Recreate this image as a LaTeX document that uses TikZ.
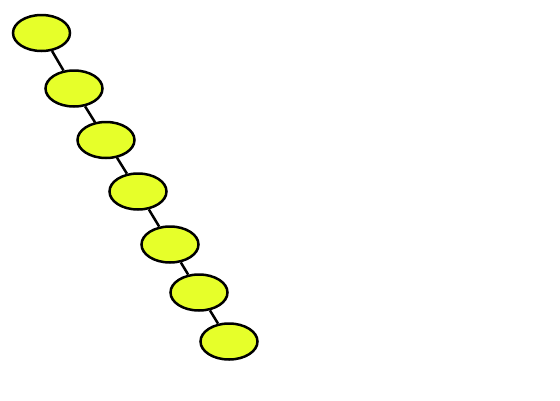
\documentclass[tikz,border=0pt]{standalone}
\usetikzlibrary{shapes.geometric}
\definecolor{nodefill}{HTML}{E6FF2A}
\begin{document}
\begin{tikzpicture}[x=1pt,y=-1pt,
  blob/.style={ellipse,draw=black,fill=nodefill,line width=2.5pt,minimum width=57pt,minimum height=36pt,inner sep=0pt},
  link/.style={line width=2.5pt,draw=black}]
\useasboundingbox (0,0) rectangle (560,400);
\node[blob] (n1) at (41.5,33) {};
\node[blob] (n2) at (74,88.5) {};
\node[blob] (n3) at (106,140) {};
\node[blob] (n4) at (138,191.5) {};
\node[blob] (n5) at (170,244.5) {};
\node[blob] (n6) at (199,292.5) {};
\node[blob] (n7) at (229,341.5) {};
\draw[link] (n1) -- (n2);
\draw[link] (n2) -- (n3);
\draw[link] (n3) -- (n4);
\draw[link] (n4) -- (n5);
\draw[link] (n5) -- (n6);
\draw[link] (n6) -- (n7);
\end{tikzpicture}
\end{document}
